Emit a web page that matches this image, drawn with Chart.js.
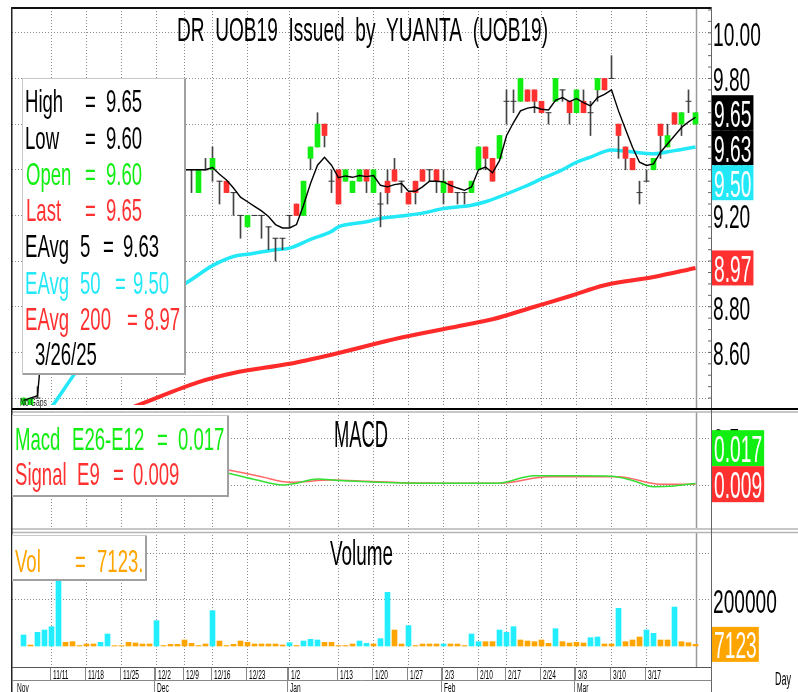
<!DOCTYPE html>
<html><head><meta charset="utf-8">
<script src="https://cdn.jsdelivr.net/npm/chart.js@4.4.1/dist/chart.umd.min.js"></script>
<style>
html,body{margin:0;padding:0;background:#fff;}
#wrap{position:relative;width:798px;height:692px;overflow:hidden;background:#fff;}
canvas{position:absolute;left:0;}
</style></head><body>
<div id="wrap">
<canvas id="cMain" width="798" height="410" style="top:0px"></canvas>
<canvas id="cMacd" width="798" height="120" style="top:410px"></canvas>
<canvas id="cVol" width="798" height="162" style="top:530px"></canvas>
</div>
<script>
// ---------------- DATA ----------------
const titleText = 'DR  UOB19  Issued  by  YUANTA  (UOB19)';
const lastDate = '3/26/25';
const dates = ['11/4','11/5','11/6','11/7','11/8','11/11','11/12','11/13','11/14','11/15','11/18','11/19','11/20','11/21','11/22','11/25','11/26','11/27','11/28','11/29','12/2','12/3','12/4','12/6','12/9','12/11','12/12','12/13','12/16','12/17','12/18','12/19','12/20','12/23','12/24','12/25','12/26','12/27','12/30','1/2','1/3','1/6','1/7','1/8','1/9','1/10','1/13','1/14','1/15','1/16','1/17','1/20','1/21','1/22','1/23','1/24','1/27','1/28','1/29','1/30','1/31','2/3','2/4','2/5','2/6','2/7','2/10','2/11','2/13','2/14','2/17','2/18','2/19','2/20','2/21','2/24','2/25','2/26','2/27','2/28','3/3','3/4','3/5','3/6','3/7','3/10','3/11','3/12','3/13','3/14','3/17','3/18','3/19','3/20','3/21','3/24','3/25','3/26'];
const opens = [null,8.35,8.35,8.40,9.30,9.40,9.50,9.60,9.55,9.55,
 9.50,9.50,9.45,9.50,9.55,9.55,9.50,9.45,9.45,9.40,
 9.40,9.45,9.40,9.40,9.40,9.40,9.30,9.40,9.40,9.35,
 9.35,9.30,9.20,9.15,9.20,9.20,9.15,9.10,9.10,9.20,
 9.25,9.20,9.45,9.50,9.60,9.35,9.40,9.35,9.30,9.35,
 9.40,9.30,9.25,9.35,9.40,9.35,9.30,9.35,9.40,9.40,
 9.40,9.30,9.35,9.30,9.30,9.30,9.40,9.50,9.45,9.45,
 9.70,9.70,9.70,9.75,9.75,9.70,9.65,9.70,9.75,9.70,
 9.65,9.70,9.65,9.75,9.80,9.80,9.60,9.50,9.45,9.30,
 9.35,9.40,9.60,9.50,9.65,9.60,9.70,9.60];
const highs = [null,8.40,8.40,8.45,9.45,9.55,9.70,9.65,9.60,9.55,
 9.55,9.50,9.55,9.60,9.55,9.55,9.50,9.50,9.45,9.45,
 9.50,9.45,9.45,9.40,9.45,9.40,9.40,9.45,9.50,9.35,
 9.35,9.30,9.20,9.20,9.20,9.20,9.15,9.10,9.10,9.20,
 9.25,9.35,9.50,9.65,9.60,9.40,9.40,9.40,9.35,9.40,
 9.40,9.40,9.30,9.40,9.45,9.35,9.30,9.35,9.40,9.40,
 9.40,9.40,9.35,9.30,9.30,9.35,9.50,9.50,9.45,9.55,
 9.75,9.75,9.80,9.75,9.75,9.70,9.65,9.80,9.75,9.70,
 9.75,9.75,9.70,9.80,9.80,9.90,9.60,9.50,9.45,9.35,
 9.40,9.45,9.60,9.60,9.65,9.65,9.75,9.65];
const lows = [null,8.35,8.30,8.40,9.25,9.35,9.45,9.50,9.50,9.50,
 9.45,9.45,9.45,9.50,9.55,9.50,9.45,9.40,9.40,9.40,
 9.40,9.40,9.35,9.35,9.35,9.30,9.30,9.40,9.35,9.25,
 9.30,9.20,9.10,9.15,9.20,9.10,9.05,9.00,9.05,9.15,
 9.20,9.20,9.40,9.50,9.50,9.30,9.25,9.35,9.30,9.35,
 9.30,9.30,9.15,9.25,9.35,9.30,9.25,9.25,9.35,9.35,
 9.30,9.25,9.30,9.25,9.25,9.30,9.40,9.40,9.35,9.45,
 9.60,9.65,9.70,9.70,9.65,9.65,9.60,9.70,9.70,9.60,
 9.65,9.65,9.55,9.70,9.75,9.80,9.45,9.40,9.40,9.25,
 9.35,9.40,9.45,9.50,9.60,9.55,9.65,9.60];
const closes = [null,8.40,8.40,8.40,9.40,9.50,9.60,9.55,9.55,9.50,
 9.50,9.45,9.50,9.55,9.55,9.50,9.45,9.45,9.40,9.40,
 9.45,9.40,9.40,9.40,9.40,9.40,9.40,9.40,9.45,9.35,
 9.30,9.30,9.20,9.20,9.20,9.20,9.15,9.10,9.10,9.20,
 9.20,9.35,9.50,9.60,9.55,9.35,9.25,9.40,9.35,9.40,
 9.35,9.40,9.25,9.30,9.35,9.35,9.25,9.30,9.35,9.40,
 9.35,9.35,9.30,9.30,9.30,9.35,9.50,9.45,9.35,9.55,
 9.70,9.70,9.80,9.70,9.70,9.65,9.65,9.80,9.75,9.65,
 9.75,9.65,9.65,9.80,9.75,9.80,9.55,9.45,9.40,9.30,
 9.35,9.45,9.55,9.55,9.60,9.65,9.70,9.65];
const ema5 = [null,8.39,8.40,8.41,8.75,9.00,9.20,9.32,9.40,9.43,
 9.45,9.45,9.47,9.50,9.52,9.51,9.49,9.48,9.45,9.43,
 9.44,9.43,9.42,9.41,9.40,9.40,9.40,9.40,9.41,9.38,
 9.355,9.32,9.28,9.26,9.24,9.22,9.195,9.16,9.145,9.145,
 9.16,9.245,9.34,9.42,9.455,9.42,9.365,9.373,9.367,9.375,
 9.37,9.375,9.332,9.325,9.335,9.34,9.306,9.306,9.325,9.35,
 9.35,9.347,9.332,9.32,9.31,9.325,9.40,9.412,9.387,9.44,
 9.549,9.607,9.658,9.67,9.675,9.665,9.662,9.704,9.716,9.699,
 9.712,9.694,9.68,9.716,9.73,9.75,9.658,9.578,9.499,9.433,
 9.419,9.426,9.477,9.513,9.549,9.585,9.61,9.63];
const ema50Idx = [4,5,9,12,15,18,21,24,28,31,33,37,39,42,45,46,50,52,55,58,61,65,67,73,75,78,80,82,85,88,91,94,97];
const ema50Val = [8.32,8.36,8.535,8.64,8.73,8.80,8.86,8.90,8.98,9.02,9.03,9.05,9.057,9.095,9.13,9.15,9.172,9.187,9.198,9.21,9.23,9.245,9.26,9.332,9.36,9.40,9.433,9.455,9.487,9.478,9.47,9.484,9.50];
const ema200Idx = [12,17,26,31,39,45,55,64,68,74,79,84,91,97];
const ema200Val = [8.31,8.365,8.47,8.51,8.55,8.59,8.665,8.72,8.745,8.80,8.846,8.894,8.93,8.97];
const volumes = [null,48000,4300,59400,69600,84000,460000,15900,18800,2000,
 8700,8700,15900,52200,1500,1500,15900,13000,8700,8700,
 110100,2000,7200,7200,26100,11600,2000,8700,153600,21700,
 2000,7200,21700,15900,8700,8700,8700,8700,4300,14500,
 2000,21700,29000,26100,15900,15900,2000,2000,8700,21700,
 11600,8700,31900,233300,69600,8700,88400,2000,8700,8700,
 8700,8700,8700,8700,2000,52200,18800,18800,18800,69600,
 59400,84000,26100,21700,18800,26100,11600,75300,18800,13000,
 15900,13000,36200,39100,8700,8700,163700,18800,26100,39100,
 69600,55100,26100,26100,169500,18800,14500,7123];
const volUp = [0,1,0,1,1,1,1,0,0,0,
 0,0,1,1,0,0,0,0,0,0,
 1,0,0,0,0,0,0,0,1,0,
 0,0,0,0,0,0,0,0,0,1,
 0,1,1,1,0,0,0,0,0,1,
 1,0,1,1,0,0,1,0,0,0,
 0,1,0,0,0,1,1,0,0,1,
 1,1,0,0,0,0,0,1,0,0,
 0,0,1,1,0,0,1,0,0,0,
 1,1,0,0,1,0,0,0];
const macdIdx = [20,25,30,34,38,40,43,46,50,55,60,68,69,74,80,85,88,91,94,97];
const macdVal = [0.20,0.17,0.13,0.06,0.0,0.02,0.065,0.05,0.035,0.022,0.018,0.018,0.02,0.10,0.10,0.095,0.05,-0.018,-0.01,0.017];
const sigIdx = [20,25,30,35,39,45,50,55,60,68,69,76,86,92,97];
const sigVal = [0.22,0.20,0.165,0.09,0.03,0.054,0.04,0.025,0.02,0.018,0.018,0.09,0.09,0.008,0.009];
const weekLabels = ['11/11','11/18','11/25','12/2','12/9','12/16','12/23','1/2','1/13','1/20','1/27','2/3','2/10','2/17','2/24','3/3','3/10','3/17'];
const monthStarts = ['11/4','12/2','1/2','2/3','3/3'];
const monthLabels = ['Nov','Dec','Jan','Feb','Mar'];
const priceTicks = [8.4,8.6,8.8,9.0,9.2,9.4,9.6,9.8,10.0];
const priceLabelTicks = [8.6,8.8,9.0,9.2,9.4,9.6,9.8,10.0];
const macdTicks = [0,0.5];
const macdLabelTicks = [0.5];
const volGridTicks = [200000,400000];
const volLabelTicks = [200000];

// ---------------- STYLE / LAYOUT ----------------
const GREEN='#11ee11', RED='#ff3030', CYAN='#22e8f8', ORANGE='#ffa500', GRID='#8c8c8c';
const FONT='"Liberation Sans", Arial, Helvetica, sans-serif';
const X_MIN=(12-16.5)/7, X_MAX=(711-16.5)/7;
const PRICE_MIN=9.6-(408-125)/230, PRICE_MAX=9.6+(125-8)/230;
const MACD_MIN=-(528-485)/92, MACD_MAX=(485-412)/92;
const VOL_MIN=-(667-646)*200000/46, VOL_MAX=(646-532)*200000/46;
const SX=0.58;
const N=dates.length, LAST=N-1;
const weekIdx=weekLabels.map(l=>dates.indexOf(l));
const monthIdx=monthStarts.map(l=>dates.indexOf(l));

function T(ctx,s,x,y,size,color,sx){ctx.save();ctx.font=size+'px '+FONT;ctx.fillStyle=color;ctx.textBaseline='alphabetic';ctx.textAlign='left';ctx.translate(x,y);ctx.scale(sx,1);ctx.fillText(s,0,0);ctx.restore();}
function TW(ctx,s,size,sx){ctx.save();ctx.font=size+'px '+FONT;const w=ctx.measureText(s).width*sx;ctx.restore();return w;}
function TFit(ctx,s,x,y,size,color,width){const w=TW(ctx,s,size,1);T(ctx,s,x,y,size,color,width/w);}
function L(ctx,x1,y1,x2,y2,color,w){ctx.save();ctx.strokeStyle=color;ctx.lineWidth=w;ctx.setLineDash([]);ctx.beginPath();ctx.moveTo(x1,y1);ctx.lineTo(x2,y2);ctx.stroke();ctx.restore();}
function legendBox(ctx,x1,y1,x2,y2){ctx.save();ctx.fillStyle='#fff';ctx.fillRect(x1,y1,x2-x1,y2-y1);ctx.strokeStyle='#c8c8c8';ctx.lineWidth=1;ctx.strokeRect(x1+0.5,y1+0.5,x2-x1-1,y2-y1-1);ctx.restore();L(ctx,x2-1,y1+1,x2-1,y2,'#a0a0a0',2);L(ctx,x1+1,y2-1,x2,y2-1,'#a0a0a0',2);}
function valBox(ctx,text,yc,bg,h){const size=37,sx=0.52;const w=TW(ctx,text,size,sx)+4;ctx.save();ctx.fillStyle=bg;ctx.fillRect(712,yc-h/2,w,h);ctx.restore();T(ctx,text,714,yc+14,size,'#fff',sx);}

function xScale(){return{type:'linear',min:X_MIN,max:X_MAX,offset:false,
 afterBuildTicks:s=>{s.ticks=weekIdx.map(v=>({value:v}));},afterFit:s=>{s.height=0;},
 ticks:{display:false},grid:{color:GRID,lineWidth:1,drawTicks:false,offset:false},border:{display:false,dash:[1,2]}};}
function yScale(min,max,vals){return{type:'linear',position:'right',min:min,max:max,
 afterBuildTicks:s=>{s.ticks=vals.map(v=>({value:v}));},afterFit:s=>{s.width=87;},
 ticks:{display:false},grid:{color:GRID,lineWidth:1,drawTicks:false},border:{display:false,dash:[1,2]}};}
const baseOpts=(pad)=>({responsive:false,animation:false,devicePixelRatio:1,events:[],layout:{padding:pad},plugins:{legend:{display:false},tooltip:{enabled:false}}});

// ---------------- MAIN PRICE CHART ----------------
const idx=dates.map((_,i)=>i).filter(i=>opens[i]!=null);
const bodyI=idx.filter(i=>opens[i]!==closes[i]);
const dojiI=idx.filter(i=>opens[i]===closes[i]);
const mainDecor={id:'mainDecor',
 beforeDatasetsDraw(chart){const ctx=chart.ctx,xs=chart.scales.x;const x=Math.round(xs.getPixelForValue(LAST))+0.5;L(ctx,x,8,x,408,'#9a9a9a',1.5);},
 afterDraw(chart){
  const ctx=chart.ctx,ys=chart.scales.y;
  L(ctx,12,8,711,8,'#111',2);
  L(ctx,11.75,7,11.75,410,'#222',1.5);
  L(ctx,711.5,7,711.5,410,'#666',1);
  for(let k=0;k<=34;k++){const y=ys.getPixelForValue(8.4+k*0.05);if(y>8&&y<408){L(ctx,708,y,711,y,'#666',1);}}
  L(ctx,12,409,798,409,'#000',2);
  TFit(ctx,titleText,177,41,33,'#000',371);
  legendBox(ctx,22,78,186,375);
  const f=v=>v.toFixed(2);
  const rows=[
   [[ 'High',25],['=',85],[f(highs[LAST]),106],'#000',112],
   [[ 'Low',25],['=',85],[f(lows[LAST]),106],'#000',148.5],
   [[ 'Open',26],['=',85],[f(opens[LAST]),106],GREEN,185],
   [[ 'Last',26],['=',85],[f(closes[LAST]),106],RED,221]];
  rows.forEach(r=>{for(let k=0;k<3;k++)T(ctx,r[k][0],r[k][1],r[4],32,r[3],SX);});
  const rows2=[
   [['EAvg',25],['5',80],['=',103],[f(ema5[LAST]),123],'#000',257],
   [['EAvg',25],['50',80],['=',115],[f(ema50Val[ema50Val.length-1]),133],CYAN,293.5],
   [['EAvg',25],['200',80],['=',127],[f(ema200Val[ema200Val.length-1]),144],RED,330]];
  rows2.forEach(r=>{for(let k=0;k<4;k++)T(ctx,r[k][0],r[k][1],r[5],32,r[4],SX);});
  T(ctx,lastDate,35,365,32,'#000',SX);
  T(ctx,'No Gaps',20,406,11,'#222',0.62);
  priceLabelTicks.forEach(v=>T(ctx,v.toFixed(2),713,ys.getPixelForValue(v)+13,33,'#000',SX));
  const items=[[closes[LAST],'#000'],[ema5[LAST],'#000'],[ema50Val[ema50Val.length-1],CYAN],[ema200Val[ema200Val.length-1],RED]];
  const h=35;let prevBottom=-1e9;
  items.forEach(it=>{let top=ys.getPixelForValue(it[0])-h/2;if(top<prevBottom)top=prevBottom;valBox(ctx,it[0].toFixed(2),top+h/2,it[1],h);prevBottom=top+h;});
 }};
new Chart(document.getElementById('cMain'),{
 type:'bar',
 data:{datasets:[
  {type:'line',label:'EAvg 5',data:ema5.map((v,i)=>({x:i,y:v})).filter(p=>p.y!=null),borderColor:'#000',borderWidth:1.4,pointRadius:0,tension:0,order:0},
  {type:'line',label:'doji',data:dojiI.map(i=>({x:i,y:closes[i]})),showLine:false,pointStyle:'line',pointRadius:3,pointBorderColor:'#333',pointBorderWidth:1,pointBackgroundColor:'#333',order:1},
  {type:'bar',label:'body',data:bodyI.map(i=>({x:i,y:[opens[i],closes[i]]})),backgroundColor:bodyI.map(i=>closes[i]>opens[i]?GREEN:RED),barThickness:5,grouped:false,borderWidth:0,order:2},
  {type:'bar',label:'wick',data:idx.map(i=>({x:i,y:[lows[i],highs[i]]})),backgroundColor:'#444',barThickness:1,grouped:false,borderWidth:0,order:3},
  {type:'line',label:'EAvg 50',data:ema50Idx.map((x,k)=>({x:x,y:ema50Val[k]})),borderColor:CYAN,borderWidth:3.5,pointRadius:0,cubicInterpolationMode:'monotone',order:4},
  {type:'line',label:'EAvg 200',data:ema200Idx.map((x,k)=>({x:x,y:ema200Val[k]})),borderColor:'#ff2a2a',borderWidth:4,pointRadius:0,cubicInterpolationMode:'monotone',order:5}
 ]},
 options:Object.assign(baseOpts({left:12,right:0,top:8,bottom:2}),{scales:{x:xScale(),y:yScale(PRICE_MIN,PRICE_MAX,priceTicks)}}),
 plugins:[mainDecor]
});

// ---------------- MACD CHART ----------------
const macdDecor={id:'macdDecor',
 beforeDatasetsDraw(chart){const ctx=chart.ctx,xs=chart.scales.x;ctx.save();ctx.translate(0,-410);const x=Math.round(xs.getPixelForValue(LAST))+0.5;L(ctx,x,412,x,528,'#9a9a9a',1.5);ctx.restore();},
 afterDraw(chart){
  const ctx=chart.ctx,ys=chart.scales.y;ctx.save();ctx.translate(0,-410);
  const Y=v=>ys.getPixelForValue(v)+410;
  L(ctx,12,412,798,412,'#b4b4b4',1.5);
  L(ctx,12,529,798,529,'#b4b4b4',1.5);
  L(ctx,11.75,410,11.75,530,'#222',1.5);
  L(ctx,711.5,410,711.5,530,'#666',1);
  legendBox(ctx,12,415,229,497);
  const fm=v=>v.toFixed(3);
  [['Macd',15],['E26-E12',72],['=',157],[fm(macdVal[macdVal.length-1]),178]].forEach(t=>T(ctx,t[0],t[1],450,32,GREEN,SX));
  [['Signal',15],['E9',77],['=',113],[fm(sigVal[sigVal.length-1]),133]].forEach(t=>T(ctx,t[0],t[1],485,32,RED,SX));
  TFit(ctx,'MACD',334,447,37,'#000',54);
  macdLabelTicks.forEach(v=>T(ctx,String(v),713,Y(v)+13,33,'#000',SX));
  const h=36;const mv=macdVal[macdVal.length-1],sv=sigVal[sigVal.length-1];
  const lo=mv<sv?[mv,GREEN]:[sv,RED], hi=mv<sv?[sv,RED]:[mv,GREEN];
  const loTop=Y(lo[0])-h/2;let hiTop=Y(hi[0])-h/2;if(hiTop+h>loTop)hiTop=loTop-h;
  valBox(ctx,fm(hi[0]),hiTop+h/2,hi[1],h);valBox(ctx,fm(lo[0]),loTop+h/2,lo[1],h);
  ctx.restore();
 }};
new Chart(document.getElementById('cMacd'),{
 type:'line',
 data:{datasets:[
  {label:'Signal',data:sigIdx.map((x,k)=>({x:x,y:sigVal[k]})),borderColor:'#ff6868',borderWidth:1.5,pointRadius:0,cubicInterpolationMode:'monotone',order:1},
  {label:'Macd',data:macdIdx.map((x,k)=>({x:x,y:macdVal[k]})),borderColor:'#33e033',borderWidth:1.5,pointRadius:0,cubicInterpolationMode:'monotone',order:0}
 ]},
 options:Object.assign(baseOpts({left:12,right:0,top:2,bottom:2}),{scales:{x:xScale(),y:yScale(MACD_MIN,MACD_MAX,macdTicks)}}),
 plugins:[macdDecor]
});

// ---------------- VOLUME CHART ----------------
const volDecor={id:'volDecor',
 beforeDatasetsDraw(chart){const ctx=chart.ctx,xs=chart.scales.x;ctx.save();ctx.translate(0,-530);const x=Math.round(xs.getPixelForValue(LAST))+0.5;L(ctx,x,532,x,667,'#9a9a9a',1.5);ctx.restore();},
 afterDraw(chart){
  const ctx=chart.ctx,ys=chart.scales.y,xs=chart.scales.x;ctx.save();ctx.translate(0,-530);
  const Y=v=>ys.getPixelForValue(v)+530;
  L(ctx,12,532.5,798,532.5,'#b4b4b4',1.5);
  L(ctx,11.75,530,11.75,692,'#222',1.5);
  L(ctx,711.5,530,711.5,692,'#666',1);
  L(ctx,12,667.5,711,667.5,'#555',1);
  L(ctx,12,680.5,711,680.5,'#888',1);
  weekIdx.forEach((wi,k)=>{const x=Math.round(xs.getPixelForValue(wi))-1.5;L(ctx,x,668,x,680,'#888',1);T(ctx,weekLabels[k],x+2.5,679,12,'#000',0.55);});
  monthIdx.forEach((mi,k)=>{const x=Math.round(xs.getPixelForValue(mi))-2.5;if(k>0)L(ctx,x,668,x,692,'#888',1);T(ctx,monthLabels[k],x+2.5,692,12,'#000',0.55);});
  T(ctx,'Day',775,685,18,'#000',0.5);
  legendBox(ctx,12,535,147,581);
  [['Vol',15],['=',75],[String(volumes[LAST])+'.',97]].forEach(t=>T(ctx,t[0],t[1],572,32,ORANGE,SX));
  TFit(ctx,'Volume',330,565,35,'#000',63);
  volLabelTicks.forEach(v=>T(ctx,String(v),713,Y(v)+13,33,'#000',SX));
  valBox(ctx,String(volumes[LAST]),Y(volumes[LAST]),ORANGE,35);
  ctx.restore();
 }};
new Chart(document.getElementById('cVol'),{
 type:'bar',
 data:{datasets:[
  {label:'Volume',data:volumes.map((v,i)=>({x:i,y:v})).filter(p=>p.y!=null),backgroundColor:volumes.map((v,i)=>volUp[i]?'#22eeff':ORANGE).filter((c,i)=>volumes[i]!=null),barThickness:5,grouped:false,borderWidth:0}
 ]},
 options:Object.assign(baseOpts({left:12,right:0,top:2,bottom:25}),{scales:{x:xScale(),y:yScale(VOL_MIN,VOL_MAX,volGridTicks)}}),
 plugins:[volDecor]
});
</script>
</body></html>
